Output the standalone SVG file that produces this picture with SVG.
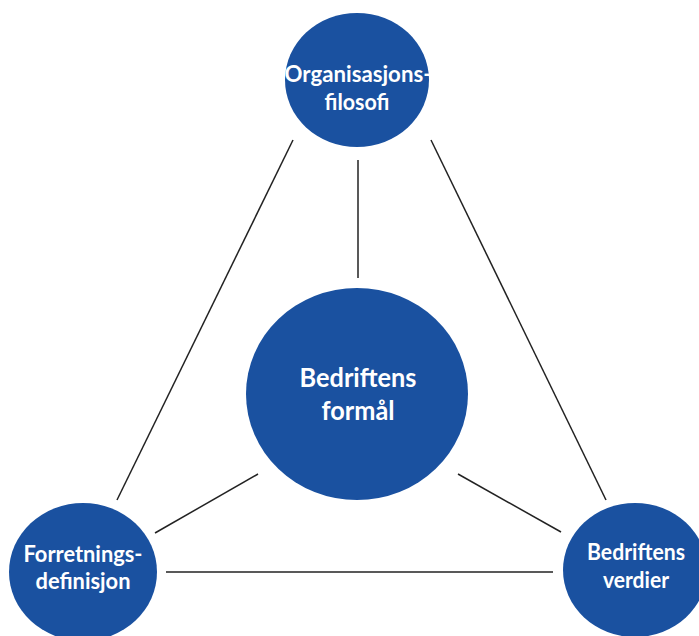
<svg xmlns="http://www.w3.org/2000/svg" width="699" height="636" viewBox="0 0 699 636">
<style>
.n{fill:#1a51a0}
.t{fill:#fff;font-family:Lato,"Open Sans","Liberation Sans",sans-serif;font-weight:700;text-anchor:middle}
.c line{stroke:#222;stroke-width:1.5}
</style>
<rect width="699" height="636" fill="#fff"/>
<g class="c" id="connectors">
<line x1="358" y1="160" x2="358" y2="278"/>
<line x1="293" y1="140" x2="117" y2="500"/>
<line x1="431" y1="140" x2="606" y2="500"/>
<line x1="258" y1="474" x2="155" y2="533"/>
<line x1="458" y1="474" x2="561" y2="532"/>
<line x1="166" y1="572" x2="553" y2="572"/>
</g>
<g id="top">
<ellipse class="n" cx="357" cy="80" rx="72" ry="67"/>
<text class="t" font-size="23" x="358" y="82" textLength="147" lengthAdjust="spacingAndGlyphs">Organisasjons-</text>
<text class="t" font-size="23" x="357" y="110" textLength="65" lengthAdjust="spacingAndGlyphs">filosofi</text>
</g>
<g id="center">
<ellipse class="n" cx="357" cy="394" rx="111" ry="106"/>
<text class="t" font-size="27" x="358" y="387" textLength="117" lengthAdjust="spacingAndGlyphs">Bedriftens</text>
<text class="t" font-size="27" x="358" y="420" textLength="73" lengthAdjust="spacingAndGlyphs">formål</text>
</g>
<g id="left">
<ellipse class="n" cx="83" cy="572" rx="74" ry="69"/>
<text class="t" font-size="22" x="83" y="562" textLength="119" lengthAdjust="spacingAndGlyphs">Forretnings-</text>
<text class="t" font-size="22" x="83" y="589" textLength="95" lengthAdjust="spacingAndGlyphs">definisjon</text>
</g>
<g id="right">
<ellipse class="n" cx="635" cy="570" rx="72" ry="67"/>
<text class="t" font-size="22" x="636" y="560" textLength="98" lengthAdjust="spacingAndGlyphs">Bedriftens</text>
<text class="t" font-size="22" x="636" y="588" textLength="66" lengthAdjust="spacingAndGlyphs">verdier</text>
</g>
</svg>
